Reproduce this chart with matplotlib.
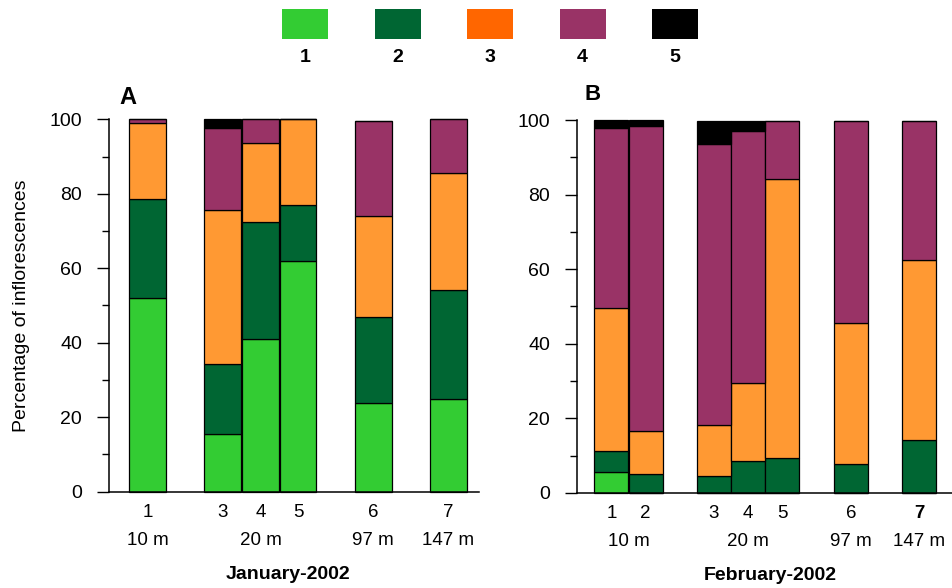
import matplotlib.pyplot as plt
from matplotlib.patches import Rectangle

plt.rcParams['font.family'] = ['Liberation Sans', 'DejaVu Sans']

# stacked shares per class (1..5), January 2002
jan_pos = [0, 2, 3, 4, 6, 8]
jan_labels = ['1', '3', '4', '5', '6', '7']
jan_c1 = [52.0, 15.4, 41.1, 62.0, 23.7, 24.8]
jan_c2 = [26.5, 18.9, 31.2, 14.9, 23.3, 29.3]
jan_c3 = [20.4, 41.3, 21.3, 23.1, 26.9, 31.6]
jan_c4 = [1.1, 22.1, 6.4, 0.0, 25.7, 14.3]
jan_c5 = [0.0, 2.3, 0.0, 0.0, 0.0, 0.0]
jan_sites = ['10 m', '20 m', '97 m', '147 m']
jan_site_groups = [[0], [2, 3, 4], [6], [8]]

# February 2002
feb_pos = [0, 1, 3, 4, 5, 7, 9]
feb_labels = ['1', '2', '3', '4', '5', '6', '7']
feb_c1 = [5.6, 0.0, 0.0, 0.0, 0.0, 0.0, 0.0]
feb_c2 = [5.7, 5.1, 4.6, 8.5, 9.3, 7.9, 14.1]
feb_c3 = [38.3, 11.4, 13.6, 20.9, 74.9, 37.8, 48.4]
feb_c4 = [48.3, 82.0, 75.5, 67.7, 15.6, 54.0, 37.2]
feb_c5 = [2.1, 1.5, 6.1, 2.7, 0.0, 0.0, 0.0]
feb_sites = ['10 m', '20 m', '97 m', '147 m']
feb_site_groups = [[0, 1], [3, 4, 5], [7], [9]]

classes = ['1', '2', '3', '4', '5']
bar_colors = ['#33CC33', '#006633', '#FF9933', '#993366', '#000000']
key_colors = ['#33CC33', '#006633', '#FF6600', '#993366', '#000000']

fig = plt.figure(figsize=(9.52, 5.88), dpi=100)
axA = fig.add_axes([0.114, 0.1641, 0.389, 0.633])
axB = fig.add_axes([0.6056, 0.1616, 0.3944, 0.6343])


def stacked(ax, pos, series, width):
    bottom = [0.0] * len(pos)
    for vals, col in zip(series, bar_colors):
        ax.bar(pos, vals, width=width, bottom=bottom, color=col,
               edgecolor='black', linewidth=0.9, clip_on=False)
        bottom = [b + v for b, v in zip(bottom, vals)]


def style(ax, pos, labels, sites, groups, month, month_x, ylabel=None):
    ax.set_ylim(0, 100)
    ax.set_yticks(range(0, 101, 20))
    ax.set_yticks(range(10, 100, 20), minor=True)
    ax.tick_params(axis='y', which='major', length=9, width=1, pad=10,
                   labelsize=14)
    ax.tick_params(axis='y', which='minor', length=5, width=1)
    ax.set_xticks(pos)
    ax.set_xticklabels(labels)
    ax.tick_params(axis='x', length=0, pad=9, labelsize=13.5)
    for s in ['top', 'right']:
        ax.spines[s].set_visible(False)
    for s in ['left', 'bottom']:
        ax.spines[s].set_linewidth(1.1)
    for name, grp in zip(sites, groups):
        x = sum(grp) / len(grp)
        ax.annotate(name, xy=(x, 0), xycoords=('data', 'axes fraction'),
                    xytext=(0, -49), textcoords='offset pixels',
                    ha='center', va='center', fontsize=13.5)
    ax.annotate(month, xy=(month_x, 0), xycoords='axes fraction',
                xytext=(0, -83), textcoords='offset pixels',
                ha='center', va='center', fontsize=14, fontweight='bold')
    if ylabel:
        ax.set_ylabel(ylabel, fontsize=14, labelpad=14)


stacked(axA, jan_pos, [jan_c1, jan_c2, jan_c3, jan_c4, jan_c5], 0.98)
axA.set_xlim(-1.043, 8.81)
style(axA, jan_pos, jan_labels, jan_sites, jan_site_groups,
      'January-2002', 0.484, 'Percentage of inflorescences')

stacked(axB, feb_pos, [feb_c1, feb_c2, feb_c3, feb_c4, feb_c5], 0.995)
axB.set_xlim(-1.018, 9.96)
style(axB, feb_pos, feb_labels, feb_sites, feb_site_groups,
      'February-2002', 0.515)
axB.get_xticklabels()[-1].set_fontweight('bold')

fig.text(128 / 952, 1 - 97 / 588, 'A', fontsize=17, fontweight='bold',
         ha='center', va='center')
fig.text(593 / 952, 1 - 95 / 588, 'B', fontsize=16, fontweight='bold',
         ha='center', va='center')

# colour key across the top
for i, (name, col) in enumerate(zip(classes, key_colors)):
    x0 = (282 + i * 92.5) / 952
    fig.add_artist(Rectangle((x0, 1 - 39 / 588), 46 / 952, 30 / 588,
                             transform=fig.transFigure, facecolor=col,
                             edgecolor='none'))
    fig.text(x0 + 23 / 952, 1 - 58 / 588, name, fontsize=14,
             fontweight='bold', ha='center', va='center')

fig.savefig('out.png', dpi=100)
